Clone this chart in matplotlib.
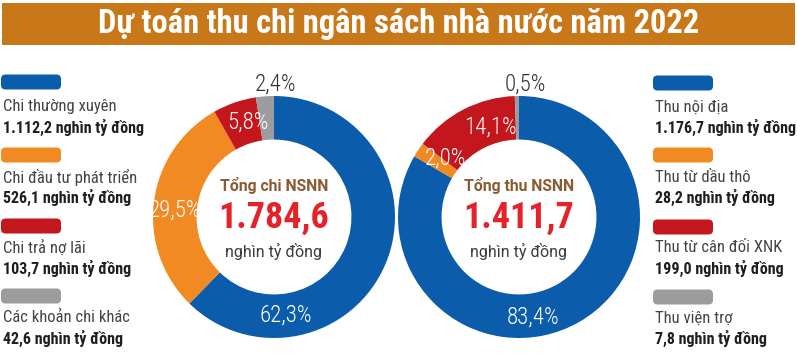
import matplotlib
matplotlib.use('Agg')
import matplotlib.pyplot as plt
from matplotlib.patches import FancyBboxPatch, Rectangle

W, H = 797, 364

# mau cho 4 nhom
colors = ['#0b5cab', '#f28a24', '#c3161d', '#9c9c9e']

chi_labels = ['Chi thường xuyên', 'Chi đầu tư phát triển', 'Chi trả nợ lãi', 'Các khoản chi khác']
chi_values = [1112.2, 526.1, 103.7, 42.6]
chi_pct = ['62,3%', '29,5%', '5,8%', '2,4%']
chi_total = '1.784,6'

thu_labels = ['Thu nội địa', 'Thu từ dầu thô', 'Thu từ cân đối XNK', 'Thu viện trợ']
thu_values = [1176.7, 28.2, 199.0, 7.8]
thu_pct = ['83,4%', '2,0%', '14,1%', '0,5%']
thu_total = '1.411,7'

NARROW = ['Roboto Condensed', 'DejaVu Sans']
BOLD = ['Roboto', 'DejaVu Sans']


def py(y):
    # toa do anh (tu tren xuong) -> toa do truc
    return H - y


def fmt(v):
    s = f'{v:,.1f}'
    return s.replace(',', ' ').replace('.', ',').replace(' ', '.')


fig = plt.figure(figsize=(W / 100, H / 100), dpi=100)
ax = fig.add_axes([0, 0, 1, 1])

# thanh tieu de
ax.add_patch(Rectangle((2, py(45)), 793, 42, color='#c97819', lw=0))
ax.text(399, py(24), 'Dự toán thu chi ngân sách nhà nước năm 2022', color='white',
        fontsize=23.5, fontweight='bold', family=NARROW, stretch='condensed',
        ha='center', va='center')


def donut(values, pct, total, title, cx, pct_pos, pct_dark):
    R = 121
    ax.pie(values, colors=colors, startangle=90, counterclock=False,
           center=(cx, py(217)), radius=R, frame=True,
           wedgeprops=dict(width=R * 0.36, edgecolor='none'))
    for i, (p, (x, y)) in enumerate(zip(pct, pct_pos)):
        c = '#333333' if i == pct_dark else 'white'
        ax.text(x, py(y), p, color=c, fontsize=16.5, fontweight='light',
                family=NARROW, stretch='condensed', ha='center', va='center')
    ax.text(cx, py(185), title, color='#8c5a30', fontsize=11.3,
            fontweight='bold', family=BOLD, ha='center', va='center')
    ax.text(cx, py(218), total, color='#e5222a', fontsize=26,
            fontweight='bold', family=NARROW, stretch='condensed',
            ha='center', va='center')
    ax.text(cx, py(251), 'nghìn tỷ đồng', color='#3a3a3a', fontsize=11.5,
            family=BOLD, ha='center', va='center')


donut(chi_values, chi_pct, chi_total, 'Tổng chi NSNN', 274,
      [(286, 315), (175, 210), (248, 122), (276, 84)], 3)
donut(thu_values, thu_pct, thu_total, 'Tổng thu NSNN', 519,
      [(533, 317), (445, 158), (490, 127), (525, 84)], 3)


def legend(labels, values, x0, bar_y, txt_y):
    for i in range(4):
        ax.add_patch(FancyBboxPatch((x0 + 4.5, py(bar_y[i]) - 3), 51, 6,
                                    boxstyle='round,pad=4.5', color=colors[i], lw=0))
        ax.text(x0 + 2, py(txt_y[i]), labels[i], color='#444444', fontsize=12,
                family=NARROW, stretch='condensed', ha='left', va='center')
        ax.text(x0 + 2, py(txt_y[i] + 20), fmt(values[i]) + ' nghìn tỷ đồng',
                color='#1e1e1e', fontsize=11.5, fontweight='bold', family=NARROW,
                stretch='condensed', ha='left', va='center')


legend(chi_labels, chi_values, 1, [82, 155, 226, 296], [107, 177, 248, 318])
legend(thu_labels, thu_values, 653, [83, 155, 227, 297], [107, 177, 248, 318])

ax.set_xlim(0, W)
ax.set_ylim(0, H)
ax.set_aspect('auto')
ax.axis('off')

fig.savefig('out.png', dpi=100, facecolor='white')
